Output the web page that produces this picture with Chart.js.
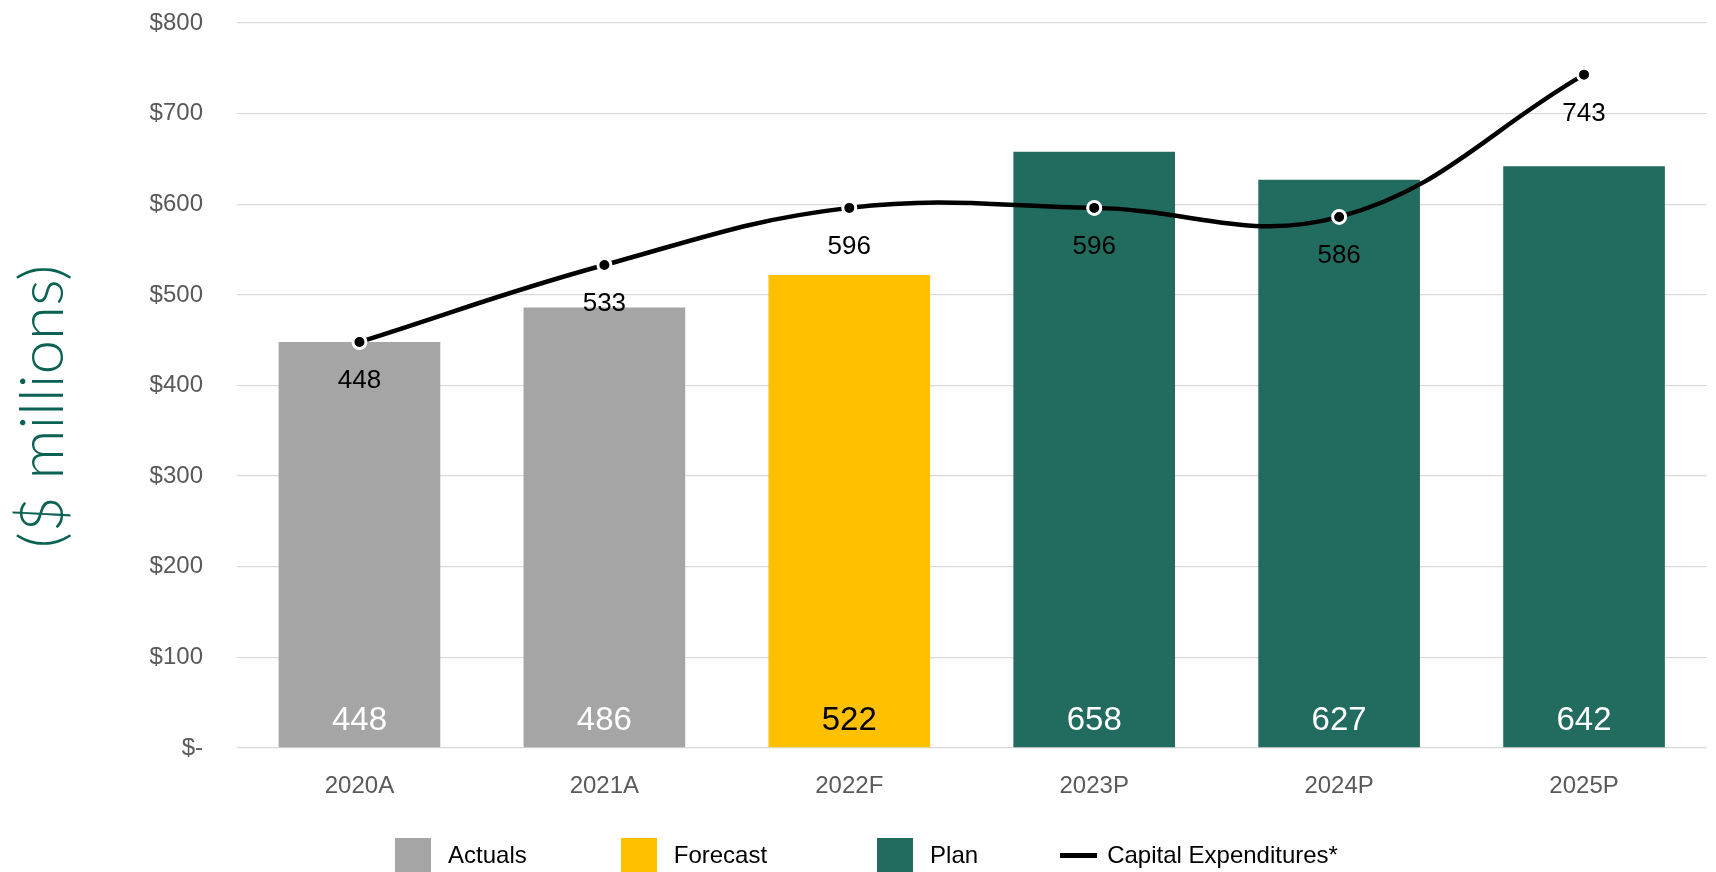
<!DOCTYPE html>
<html lang="en">
<head>
<meta charset="UTF-8">
<title>Capital Expenditures</title>
<script src="https://cdn.jsdelivr.net/npm/chart.js"></script>
<style>
    html, body { margin: 0; padding: 0; background: #fff; }
    .wrap { position: relative; width: 1716px; height: 872px; }
    #legend {
        position: absolute; left: 17px; right: 0; top: 838px;
        display: flex; justify-content: center;
        font-family: "Liberation Sans", Arial, sans-serif; font-size: 24px; color: #000;
    }
    .item { display: flex; align-items: center; height: 34px; }
    .box { width: 36px; height: 34px; margin-right: 17px; }
    .line { width: 37px; height: 5px; background: #000; margin-right: 10px; }
</style>
</head>
<body>
<div class="wrap">
    <canvas id="capexChart" width="1716" height="872"></canvas>
    <div id="legend"></div>
</div>

<script>
    const categories = ['2020A', '2021A', '2022F', '2023P', '2024P', '2025P'];
    const barValues = [448, 486, 522, 658, 627, 642];
    const barGroups = ['Actuals', 'Actuals', 'Forecast', 'Plan', 'Plan', 'Plan'];
    const capexValues = [448, 533, 596, 596, 586, 743];
    const capexLabel = 'Capital Expenditures*';
    const groupNames = ['Actuals', 'Forecast', 'Plan'];
    const groupColors = ['#a5a5a5', '#ffc000', '#216b5f'];
    const groupTextColors = ['#ffffff', '#000000', '#ffffff'];
    const yTicks = [0, 100, 200, 300, 400, 500, 600, 700, 800];

    const FONT = '"Liberation Sans", Arial, sans-serif';

    function groupIndex(i) { return groupNames.indexOf(barGroups[i]); }

    // value labels for bars (bottom, inside) and the line (below each point)
    const valueLabels = {
        id: 'valueLabels',
        afterDatasetsDraw(chart) {
            const ctx = chart.ctx;
            ctx.save();
            ctx.textAlign = 'center';
            ctx.textBaseline = 'middle';

            chart.getDatasetMeta(0).data.forEach((bar, i) => {
                ctx.font = '33px ' + FONT;
                ctx.fillStyle = groupTextColors[groupIndex(i)];
                ctx.fillText(barValues[i], bar.x, bar.base - 26);
            });

            chart.getDatasetMeta(1).data.forEach((pt, i) => {
                ctx.font = '26px ' + FONT;
                ctx.fillStyle = '#000';
                ctx.fillText(capexValues[i], pt.x, pt.y + 39);
            });
            ctx.restore();
        }
    };

    // rotated axis title
    const axisTitle = {
        id: 'axisTitle',
        afterDraw(chart) {
            const ctx = chart.ctx;
            const a = chart.chartArea;
            ctx.save();
            ctx.translate(43, (a.top + a.bottom) / 2 + 21);
            ctx.rotate(-Math.PI / 2);
            ctx.font = '300 62px Lato, "Open Sans", sans-serif';
            ctx.fillStyle = '#0b6152';
            ctx.textAlign = 'center';
            ctx.textBaseline = 'middle';
            ctx.fillText('($ millions)', 0, 0);
            ctx.restore();
        }
    };

    const ctx = document.getElementById('capexChart').getContext('2d');
    const capexChart = new Chart(ctx, {
        data: {
            labels: categories,
            datasets: [{
                type: 'bar',
                label: 'Capital Program',
                data: barValues,
                backgroundColor: barGroups.map((g, i) => groupColors[groupIndex(i)]),
                categoryPercentage: 1,
                barPercentage: 0.66,
                order: 2
            }, {
                type: 'line',
                label: capexLabel,
                data: capexValues,
                borderColor: '#000',
                borderWidth: 4.5,
                tension: 0.4,
                pointRadius: 6.5,
                pointBackgroundColor: '#000',
                pointBorderColor: '#fff',
                pointBorderWidth: 3,
                order: 1
            }]
        },
        options: {
            responsive: false,
            animation: false,
            layout: { padding: { top: 23, right: 4, left: 0, bottom: 0 } },
            plugins: {
                legend: { display: false },
                tooltip: { enabled: false }
            },
            scales: {
                x: {
                    grid: { display: false },
                    border: { display: false },
                    ticks: { color: '#595959', font: { family: FONT, size: 24 }, padding: 16 },
                    afterFit(scale) { scale.height = 124; }
                },
                y: {
                    min: 0,
                    max: 800,
                    afterBuildTicks(scale) { scale.ticks = yTicks.map(v => ({ value: v })); },
                    grid: { color: '#d9d9d9', lineWidth: 1.3, drawTicks: true, tickLength: 34, tickColor: 'rgba(0,0,0,0)' },
                    border: { display: false },
                    ticks: {
                        color: '#595959',
                        font: { family: FONT, size: 24 },
                        padding: 0,
                        callback: v => v === 0 ? '$-' : '$' + v
                    },
                    afterFit(scale) { scale.width = 237; }
                }
            }
        },
        plugins: [valueLabels, axisTitle]
    });

    // legend built from the same group/series names and colours
    const legendGaps = [0, 94, 110, 82];
    const legend = document.getElementById('legend');
    groupNames.forEach((name, i) => {
        legend.insertAdjacentHTML('beforeend',
            '<div class="item" style="margin-left:' + legendGaps[i] + 'px"><span class="box" style="background:' +
            groupColors[i] + '"></span>' + name + '</div>');
    });
    legend.insertAdjacentHTML('beforeend',
        '<div class="item" style="margin-left:' + legendGaps[3] + 'px"><span class="line"></span>' + capexLabel + '</div>');
</script>
</body>
</html>
